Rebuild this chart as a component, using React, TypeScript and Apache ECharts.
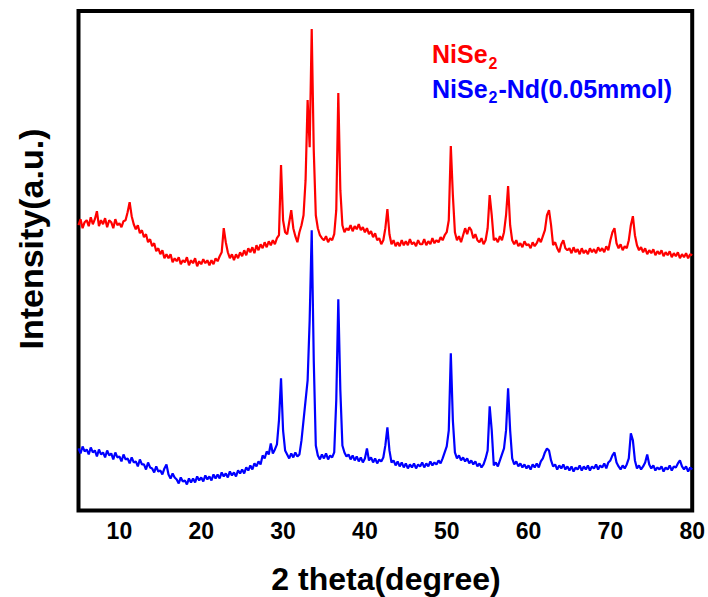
import React, { useEffect, useRef } from "react";
import * as echarts from "echarts";

// 2θ scan: start, step (degrees)
const SCAN_START = 5;
const SCAN_STEP = 0.25;

// NiSe2 intensities (a.u.), one value per step from 5° to 80°
const nise2: number[] = [
  285, 291, 282, 288, 290, 284, 293, 286, 291, 299, 284, 290, 286, 292, 283, 290,
  288, 282, 291, 285, 287, 283, 289, 290, 298, 308, 294, 286, 281, 285, 277, 280,
  273, 276, 268, 271, 264, 267, 259, 262, 256, 260, 252, 256, 252, 256, 248, 252,
  249, 253, 246, 250, 248, 253, 245, 250, 247, 252, 244, 249, 246, 251, 247, 250,
  245, 250, 246, 252, 249, 254, 258, 282, 268, 258, 252, 256, 250, 256, 252, 258,
  254, 260, 255, 262, 258, 263, 257, 265, 260, 266, 262, 268, 263, 269, 265, 270,
  266, 272, 275, 345, 290, 278, 276, 288, 300, 282, 274, 268, 278, 285, 295, 330,
  410, 363, 481, 360, 295, 282, 275, 272, 270, 274, 268, 272, 270, 276, 300, 417,
  320, 285, 278, 282, 280, 285, 279, 284, 281, 286, 280, 283, 278, 282, 276, 279,
  273, 277, 270, 272, 266, 270, 282, 301, 276, 266, 270, 264, 268, 264, 270, 265,
  269, 265, 271, 266, 268, 264, 270, 266, 266, 271, 265, 269, 266, 272, 267, 270,
  268, 273, 270, 275, 278, 290, 364, 315, 278, 270, 274, 268, 275, 282, 276, 283,
  280, 272, 276, 270, 268, 272, 266, 270, 282, 315, 295, 270, 272, 268, 274, 270,
  278, 295, 324, 285, 270, 266, 270, 264, 267, 263, 269, 265, 266, 262, 268, 264,
  267, 272, 268, 274, 280, 295, 300, 285, 265, 268, 262, 258, 266, 270, 262, 260,
  262, 257, 263, 258, 261, 256, 262, 257, 260, 256, 262, 258, 261, 257, 263, 259,
  262, 258, 264, 260, 270, 278, 282, 267, 262, 266, 260, 264, 262, 270, 285, 294,
  275, 265, 260, 263, 258, 262, 256, 260, 257, 261, 255, 259, 256, 260, 254, 258,
  255, 259, 253, 257, 254, 258, 252, 256, 253, 257, 252, 256, 255,
];

// NiSe2-Nd(0.05mmol) intensities (a.u.), one value per step from 5° to 80°
const nise2Nd: number[] = [
  62, 57, 64, 59, 61, 56, 63, 58, 60, 54, 61, 56, 58, 53, 60, 55,
  57, 51, 58, 53, 54, 49, 56, 51, 52, 47, 53, 48, 49, 44, 51, 46,
  46, 41, 48, 43, 42, 38, 44, 39, 40, 36, 42, 46, 36, 32, 37, 33,
  31, 27, 33, 29, 30, 26, 32, 28, 32, 28, 34, 30, 33, 29, 35, 31,
  34, 30, 36, 32, 36, 32, 38, 34, 37, 33, 39, 35, 38, 34, 40, 37,
  41, 37, 43, 40, 45, 41, 47, 44, 49, 46, 55, 52, 59, 56, 67, 57,
  61, 66, 90, 132, 80, 60, 56, 52, 57, 53, 58, 54, 56, 70, 90, 110,
  130, 190, 280, 150, 65, 55, 51, 56, 52, 57, 51, 55, 53, 58, 110, 211,
  120, 65, 58, 54, 56, 51, 55, 50, 54, 49, 53, 48, 52, 62, 50, 53,
  48, 52, 47, 51, 49, 53, 65, 83, 60, 48, 50, 45, 49, 44, 48, 43,
  47, 42, 46, 43, 47, 42, 46, 44, 48, 43, 47, 44, 49, 45, 48, 46,
  50, 47, 52, 58, 64, 80, 157, 90, 58, 52, 55, 50, 53, 49, 52, 47,
  50, 46, 49, 44, 47, 43, 46, 52, 60, 104, 80, 45, 48, 44, 50, 56,
  62, 80, 122, 80, 52, 46, 49, 44, 47, 43, 46, 42, 45, 41, 46, 43,
  47, 43, 49, 52, 58, 62, 60, 50, 44, 46, 41, 45, 42, 46, 41, 44,
  40, 44, 39, 43, 41, 45, 40, 44, 41, 45, 40, 44, 42, 46, 41, 45,
  43, 47, 42, 48, 50, 55, 58, 48, 44, 41, 45, 42, 46, 52, 77, 70,
  50, 42, 45, 41, 44, 48, 56, 46, 42, 45, 40, 43, 41, 44, 39, 43,
  41, 45, 40, 44, 43, 47, 50, 44, 41, 44, 39, 43, 41,
];

const xTicks = [10, 20, 30, 40, 50, 60, 70, 80];
const seriesNames = ["NiSe2", "NiSe2-Nd(0.05mmol)"];
const seriesColors = ["#ff0000", "#0000ff"];

const FONT = "'Liberation Sans', Arial, Helvetica, sans-serif";

function toPairs(vals: number[]): [number, number][] {
  return vals.map((v, i) => [SCAN_START + i * SCAN_STEP, v]);
}

export default function App() {
  const ref = useRef<HTMLDivElement>(null);
  useEffect(() => {
    if (!ref.current) return;
    const chart = echarts.init(ref.current, undefined, { renderer: "svg" });
    const rich = (color: string) => ({
      n: { fontSize: 25, fontWeight: "bold", fontFamily: FONT, color, verticalAlign: "middle" },
      s: { fontSize: 16, fontWeight: "bold", fontFamily: FONT, color, verticalAlign: "bottom", padding: [18, 1, 0, 1] },
    });
    chart.setOption({
      animation: false,
      backgroundColor: "#ffffff",
      grid: {
        left: 78.5,
        top: 11,
        width: 615,
        height: 499.5,
        show: true,
        borderColor: "#000",
        borderWidth: 4,
        backgroundColor: "transparent",
      },
      xAxis: {
        type: "value",
        min: 5,
        max: 80,
        axisLine: { show: false },
        axisTick: { show: false },
        splitLine: { show: false },
        axisLabel: {
          customValues: xTicks,
          margin: 9,
          fontSize: 23,
          fontWeight: "bold",
          fontFamily: FONT,
          color: "#000",
        },
      },
      yAxis: {
        type: "value",
        min: 0,
        max: 499,
        axisLine: { show: false },
        axisTick: { show: false },
        axisLabel: { show: false },
        splitLine: { show: false },
      },
      series: [
        {
          name: seriesNames[0],
          type: "line",
          data: toPairs(nise2),
          showSymbol: false,
          lineStyle: { color: seriesColors[0], width: 2.2 },
          itemStyle: { color: seriesColors[0] },
        },
        {
          name: seriesNames[1],
          type: "line",
          data: toPairs(nise2Nd),
          showSymbol: false,
          lineStyle: { color: seriesColors[1], width: 2.2 },
          itemStyle: { color: seriesColors[1] },
        },
      ],
      graphic: [
        {
          type: "text",
          x: 386,
          y: 579,
          style: {
            text: "2 theta(degree)",
            font: `bold 32px ${FONT}`,
            fill: "#000",
            textAlign: "center",
            textVerticalAlign: "middle",
          },
        },
        {
          type: "text",
          x: 31,
          y: 239,
          rotation: Math.PI / 2,
          style: {
            text: "Intensity(a.u.)",
            font: `bold 34px ${FONT}`,
            fill: "#000",
            textAlign: "center",
            textVerticalAlign: "middle",
          },
        },
        {
          type: "text",
          x: 432,
          y: 54,
          style: {
            text: "{n|NiSe}{s|2}",
            rich: rich(seriesColors[0]),
            fill: seriesColors[0],
            textVerticalAlign: "middle",
          },
        },
        {
          type: "text",
          x: 432,
          y: 88.5,
          style: {
            text: "{n|NiSe}{s|2}{n|-Nd(0.05mmol)}",
            rich: rich(seriesColors[1]),
            fill: seriesColors[1],
            textVerticalAlign: "middle",
          },
        },
      ],
    });
    return () => chart.dispose();
  }, []);
  return <div ref={ref} style={{ width: 708, height: 597, position: "absolute", left: 0, top: 0 }} />;
}
